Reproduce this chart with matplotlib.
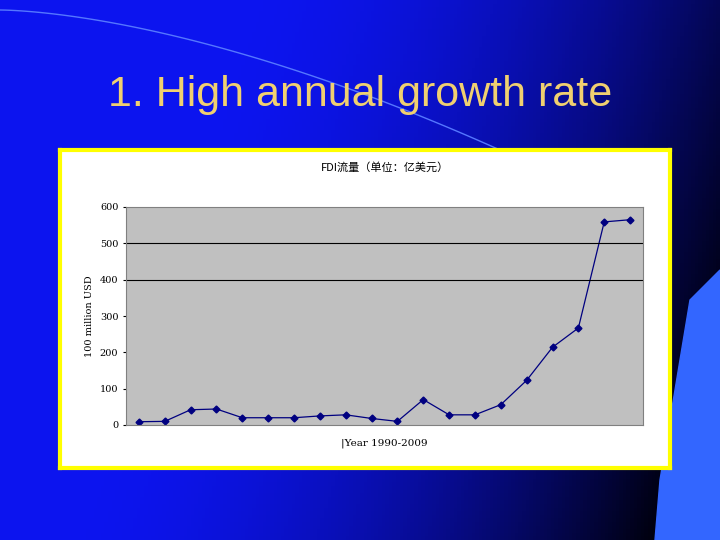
import matplotlib
matplotlib.use("Agg")
import matplotlib.pyplot as plt
import numpy as np
from matplotlib.patches import Polygon

years = list(range(1990, 2010))
fdi = [9, 10, 42, 44, 20, 20, 20, 25, 28, 18, 10, 70, 28, 28, 56, 123, 214, 267, 559, 565]
yticks = [0, 100, 200, 300, 400, 500, 600]

plt.rcParams['font.family'] = ['Noto Sans CJK SC', 'DejaVu Sans']
W, H = 720, 540
fig = plt.figure(figsize=(7.2, 5.4), dpi=100)

# background gradient
bg = fig.add_axes([0, 0, 1, 1])
xx, yy = np.meshgrid(np.linspace(0, 1, 200), np.linspace(0, 1, 150))
t = np.clip(xx * 1.2 - (1 - yy) * 0.3 - 0.1, 0, 1) ** 1.8
img = np.zeros((150, 200, 3))
img[..., 2] = 0.9 * (1 - t) + 0.04
img[..., 0] = 0.05 * (1 - t)
img[..., 1] = 0.08 * (1 - t)
bg.imshow(img, extent=[0, W, H, 0], aspect='auto')
bg.add_patch(Polygon([[655, 540], [660, 480], [690, 300], [720, 270], [720, 540]],
                     closed=True, color='#3366ff'))
ang = np.linspace(0, 1, 100)
bg.plot(0 + 500 * ang, 10 + 140 * ang ** 1.6, color='#5577ff', lw=1)
bg.set_xlim(0, W); bg.set_ylim(H, 0); bg.axis('off')

fig.text(0.5, 1 - 95 / H, "1. High annual growth rate", ha='center', va='center',
         fontsize=31, color='#f0d070', family='Liberation Sans')

# chart box
box = fig.add_axes([60 / W, 1 - 468 / H, 610 / W, 318 / H])
box.set_xticks([]); box.set_yticks([])
box.set_facecolor('white')
for s in box.spines.values():
    s.set_color('#ffff00'); s.set_linewidth(3)

ax = fig.add_axes([126 / W, 1 - 425 / H, 517 / W, 218 / H])
ax.set_facecolor('#c0c0c0')
x = np.arange(len(years))
ax.plot(x, fdi, color='#000080', marker='D', markersize=3.5, lw=0.9)
ax.set_xlim(-0.5, len(years) - 0.5)
ax.set_ylim(0, 600)
ax.set_yticks(yticks)
ax.set_yticklabels([str(v) for v in yticks], fontsize=7, family='DejaVu Serif')
ax.set_xticks([])
for v in [400, 500]:
    ax.axhline(v, color='black', lw=0.8)
for s in ax.spines.values():
    s.set_color('#808080'); s.set_linewidth(0.8)
ax.tick_params(axis='y', length=2)
ax.set_ylabel("100 million USD", fontsize=7, family='DejaVu Serif')
ax.set_title("FDI流量（单位：亿美元）", fontsize=8, pad=26)
ax.set_xlabel("|Year 1990-2009", fontsize=7.5, family='DejaVu Serif', labelpad=10)

fig.savefig("out.png", dpi=100)
